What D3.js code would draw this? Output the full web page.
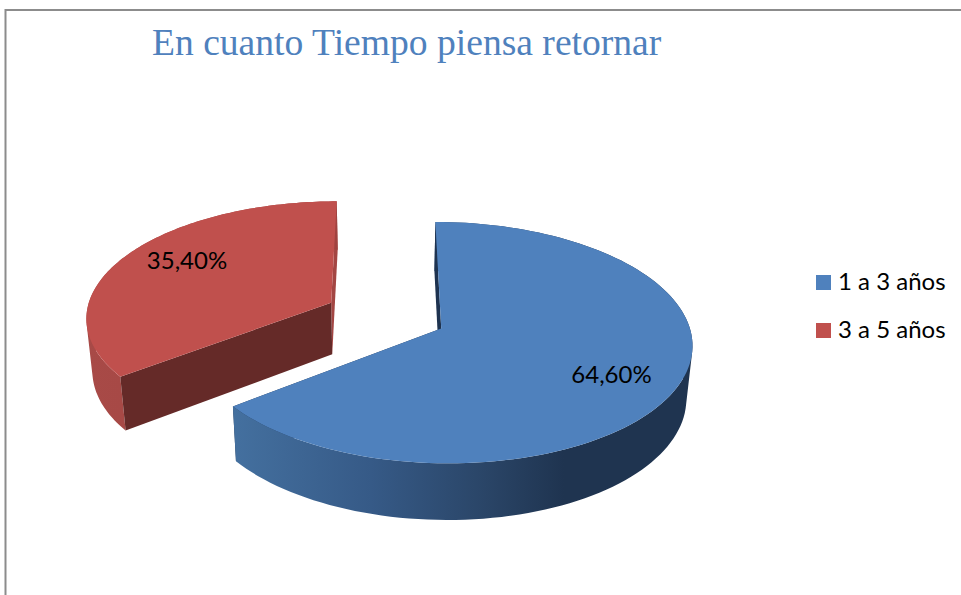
<!DOCTYPE html>
<html>
<head>
<meta charset="utf-8">
<script src="https://cdn.jsdelivr.net/npm/d3@7"></script>
<style>
  html, body { margin: 0; padding: 0; background: #fff; overflow: hidden; }
  text { font-family: Lato, sans-serif; fill: #000; }
</style>
</head>
<body>
<div id="chart"></div>
<script>
const chartTitle = 'En cuanto Tiempo piensa retornar';
const categories = ['1 a 3 años', '3 a 5 años'];
const values = [64.6, 35.4];
const valueLabels = ['64,60%', '35,40%'];
const topColors = ['#4f81bd', '#c0504d'];
const startEdgeColors = ['#1e3350', '#652a28'];
const endEdgeColors = ['#1e3350', '#a34643'];
const wallStops = [
  [[0, '#44709f'], [0.3, '#365a87'], [0.55, '#2a4567'], [0.72, '#1f3450'], [1, '#1f3450']],
  [[0, '#a84a47'], [1, '#a04340']]
];
const labelSpots = [[611.5, 383], [187, 269]];

const width = 961;
const height = 595;

// perspective set up, fitted by eye
const cx = 385.5, cy = 315.5;
const radius = 245.5, radiusY = 116;
const persp = 0.1157;     // how much nearer points grow
const explode = 0.25;     // slice pull out, in radius units
const depth = 53;         // pie thickness
const shrink = 0.98;      // underside sits further away

function project(wx, wy, low) {
  let s = 1 / (1 - persp * wy);
  let f = low ? shrink : 1;
  return [
    cx + radius * wx * s * f,
    cy + (radiusY * wy + (low ? depth : 0)) * s * f
  ];
}

let svg = d3.select('#chart').append('svg')
  .attr('width', width)
  .attr('height', height);

svg.append('rect')
  .attr('width', width)
  .attr('height', height)
  .attr('fill', '#fff');

// frame, only top and left show in the crop
svg.append('path')
  .attr('d', `M5.5,${height} V10 H${width}`)
  .attr('fill', 'none')
  .attr('stroke', '#8c8c8c')
  .attr('stroke-width', 2);

svg.append('text')
  .attr('x', 152)
  .attr('y', 55)
  .style('font-family', '"Liberation Serif", serif')
  .style('font-size', '37.6px')
  .style('fill', '#4f81bd')
  .text(chartTitle);

let defs = svg.append('defs');
wallStops.forEach((stops, i) => {
  let grad = defs.append('linearGradient').attr('id', `wall-${i}`);
  stops.forEach(s => {
    grad.append('stop').attr('offset', s[0]).attr('stop-color', s[1]);
  });
});

let pie = d3.pie().sort(null)(values);
let line = d3.line();

// red goes first, blue sits in front of it
[1, 0].forEach(i => {
  let slice = pie[i];
  let mid = (slice.startAngle + slice.endAngle) / 2;
  let ox = explode * Math.sin(mid);
  let oy = -explode * Math.cos(mid);

  let rim = low => d3.range(0, 121).map(n => {
    let a = slice.startAngle + (slice.endAngle - slice.startAngle) * n / 120;
    return project(ox + Math.sin(a), oy - Math.cos(a), low);
  });
  let rimTop = rim(false);
  let rimLow = rim(true);
  let hubTop = project(ox, oy, false);
  let hubLow = project(ox, oy, true);

  // wall is a strip of quads so the sides keep their full outline,
  // all wound the same way or the overlaps cancel out
  let wallPath = d3.range(0, 120).map(n => {
    let quad = [rimTop[n], rimTop[n + 1], rimLow[n + 1], rimLow[n]];
    if (d3.polygonArea(quad) < 0) quad.reverse();
    return line(quad) + 'Z';
  }).join('');

  let g = svg.append('g').attr('class', `slice-${i}`);

  // end edge
  g.append('path')
    .attr('d', line([hubTop, rimTop[120], rimLow[120], hubLow]) + 'Z')
    .attr('fill', endEdgeColors[i]);

  // outer wall
  g.append('path')
    .attr('d', wallPath)
    .attr('fill', `url(#wall-${i})`);

  // start edge
  g.append('path')
    .attr('d', line([hubTop, rimTop[0], rimLow[0], hubLow]) + 'Z')
    .attr('fill', startEdgeColors[i]);

  // top
  g.append('path')
    .attr('d', line([hubTop].concat(rimTop)) + 'Z')
    .attr('fill', topColors[i]);

  g.append('text')
    .attr('x', labelSpots[i][0])
    .attr('y', labelSpots[i][1])
    .attr('text-anchor', 'middle')
    .style('font-size', '24px')
    .text(valueLabels[i]);
});

let legend = svg.append('g').attr('class', 'legend');
categories.forEach((c, i) => {
  let y = 275 + i * 48;
  legend.append('rect')
    .attr('x', 816)
    .attr('y', y)
    .attr('width', 15)
    .attr('height', 15)
    .attr('fill', topColors[i]);
  legend.append('text')
    .attr('x', 838)
    .attr('y', y + 15)
    .style('font-size', '24px')
    .text(c);
});
</script>
</body>
</html>
